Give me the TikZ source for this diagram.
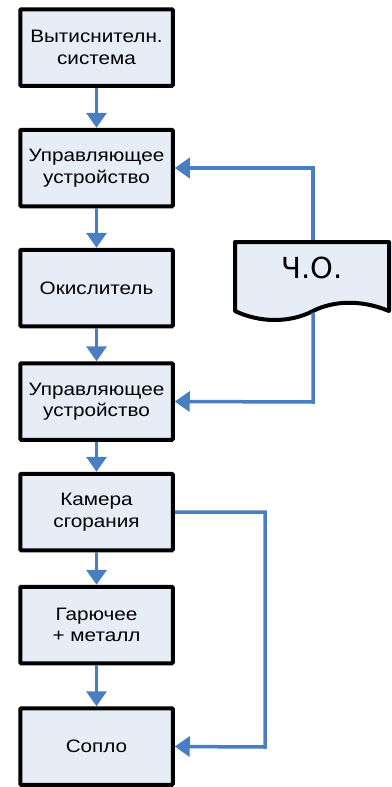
\documentclass[tikz,border=0pt]{standalone}
\usepackage{fontspec}
\setmainfont{Liberation Sans}[FakeStretch=1.15]
\newfontfamily\chofont{DejaVu Sans}
\usetikzlibrary{arrows.meta}
\definecolor{flowblue}{RGB}{74,126,194}
\definecolor{boxfill}{RGB}{231,237,247}
\tikzset{
  procbox/.style={draw=black, line width=4pt, fill=boxfill, rounded corners=1pt,
    minimum width=152.5pt, minimum height=76.5pt, inner sep=0pt, align=center,
    font=\fontsize{18}{21.5}\selectfont},
  flow/.style={draw=flowblue, line width=3.5pt,
    -{Triangle[width=20pt,length=15pt]}}
}
\begin{document}
\begin{tikzpicture}[x=1pt,y=-1pt]
\useasboundingbox (0,0) rectangle (391,787);
\node[procbox] (b1) at (96.5,47.5) {Вытиснителн.\\система};
\node[procbox] (b2) at (96.5,168) {Управляющее\\устройство};
\node[procbox] (b3) at (96.5,288) {Окислитель};
\node[procbox] (b4) at (96.5,401.5) {Управляющее\\устройство};
\node[procbox] (b5) at (96.5,512) {Камера\\сгорания};
\node[procbox] (b6) at (96.5,625) {Гарючее\\+ металл};
\node[procbox] (b7) at (96.5,746.5) {Сопло};
% document shape
\draw[black, line width=4pt, fill=boxfill, line join=round]
  (235,242) -- (389,242) -- (389,311)
  .. controls (360,299) and (333,301) .. (313,311)
  .. controls (290,323) and (260,323) .. (235,311) -- cycle;
\node[font=\chofont\fontsize{29}{30}\selectfont, inner sep=0pt] (cho) at (312,268) {Ч.О.};
\coordinate (chotop) at (313,240);
\coordinate (chobot) at (313,312.5);
\coordinate (up) at (313,168);
\coordinate (dn) at (313,402);
\coordinate (r1) at (265,512);
\coordinate (r2) at (265,747);
% flows
\draw[flow] (b1.south) -- (b2.north);
\draw[flow] (b2.south) -- (b3.north);
\draw[flow] (b3.south) -- (b4.north);
\draw[flow] (b4.south) -- (b5.north);
\draw[flow] (b5.south) -- (b6.north);
\draw[flow] (b6.south) -- (b7.north);
\draw[flow] (chotop) -- (up) -- (b2.east);
\draw[flow] (chobot) -- (dn) -- (b4.east);
\draw[flow] (b5.east) -- (r1) -- (r2) -- (b7.east);
\end{tikzpicture}
\end{document}
